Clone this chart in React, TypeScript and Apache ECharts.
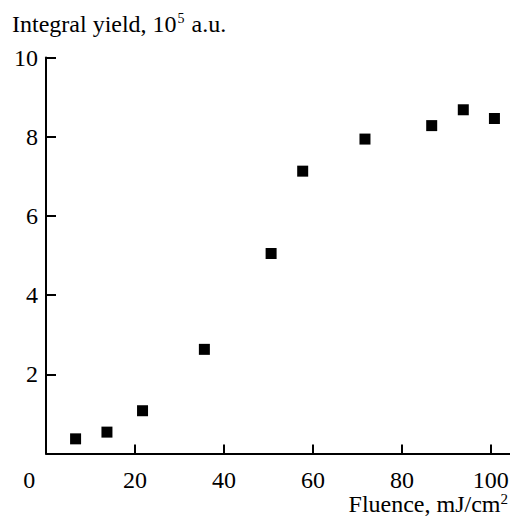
import React, { useEffect, useRef } from "react";
import * as echarts from "echarts";

const fluence = [6.65, 13.7, 21.7, 35.6, 50.6, 57.7, 71.7, 86.7, 93.8, 100.8];
const yieldValues = [0.37, 0.54, 1.08, 2.63, 5.05, 7.13, 7.94, 8.28, 8.68, 8.46];
const xTicks = { min: 0, max: 104.3, interval: 20 };
const yTicks = { min: 0, max: 10, interval: 2 };
const yTitle = ["Integral yield, 10", "5", " a.u."];
const xTitle = ["Fluence, mJ/cm", "2"];

const FONT = "'Liberation Serif', 'Times New Roman', serif";
const INK = "#000";

export default function App() {
  const ref = useRef<HTMLDivElement>(null);
  useEffect(() => {
    if (!ref.current) return;
    const chart = echarts.init(ref.current, null, { renderer: "svg" });
    const data = fluence.map((x, i) => [x, yieldValues[i]]);
    chart.setOption({
      animation: false,
      backgroundColor: "#fff",
      title: [
        {
          text: `{a|${yTitle[0]}}{s|${yTitle[1]}}{a|${yTitle[2]}}`,
          left: 12,
          top: 7.9,
          padding: 0,
          textStyle: {
            fontWeight: "normal",
            rich: {
              a: { fontFamily: FONT, fontSize: 24, fontWeight: "normal", color: INK, lineHeight: 28, verticalAlign: "bottom" },
              s: { fontFamily: FONT, fontSize: 14, fontWeight: "normal", color: INK, lineHeight: 14, verticalAlign: "bottom", padding: [0, 1, 10.3, 1] },
            },
          },
        },
        {
          text: `{a|${xTitle[0]}}{s|${xTitle[1]}}`,
          right: 2,
          top: 487.5,
          padding: 0,
          textStyle: {
            fontWeight: "normal",
            rich: {
              a: { fontFamily: FONT, fontSize: 24, fontWeight: "normal", color: INK, lineHeight: 28, verticalAlign: "bottom" },
              s: { fontFamily: FONT, fontSize: 15, fontWeight: "normal", color: INK, lineHeight: 15, verticalAlign: "bottom", padding: [0, 0, 9.5, 0] },
            },
          },
        },
      ],
      grid: {
        left: 46,
        right: 0,
        top: 57.5,
        bottom: 67.5,
        containLabel: false,
        outerBoundsMode: "none",
      },
      xAxis: {
        type: "value",
        min: xTicks.min,
        max: xTicks.max,
        interval: xTicks.interval,
        axisLine: { show: true, onZero: false, lineStyle: { color: INK, width: 2 } },
        axisTick: { show: true, inside: true, length: 9, lineStyle: { color: INK, width: 2 } },
        splitLine: { show: false },
        axisLabel: {
          margin: 16.5,
          color: INK,
          fontFamily: FONT,
          fontSize: 24,
          lineHeight: 20,
          showMaxLabel: false,
          formatter: (v: number) => (v === 0 ? "{z|0}" : String(v)),
          rich: {
            z: { fontFamily: FONT, fontSize: 24, lineHeight: 20, color: INK, padding: [0, 33.4, 0, 0] },
          },
        },
      },
      yAxis: {
        type: "value",
        min: yTicks.min,
        max: yTicks.max,
        interval: yTicks.interval,
        axisLine: { show: true, onZero: false, lineStyle: { color: INK, width: 2 } },
        axisTick: { show: true, inside: true, length: 10, lineStyle: { color: INK, width: 2 } },
        splitLine: { show: false },
        axisLabel: {
          margin: 8,
          color: INK,
          fontFamily: FONT,
          fontSize: 24,
          padding: [5, 0, 0, 0],
          showMinLabel: false,
        },
      },
      series: [
        {
          type: "scatter",
          symbol: "rect",
          symbolSize: 11,
          itemStyle: { color: INK, opacity: 1 },
          data,
        },
      ],
    });
    return () => chart.dispose();
  }, []);
  return (
    <div
      ref={ref}
      style={{ position: "fixed", left: 0, top: 0, width: 510, height: 521 }}
    />
  );
}
